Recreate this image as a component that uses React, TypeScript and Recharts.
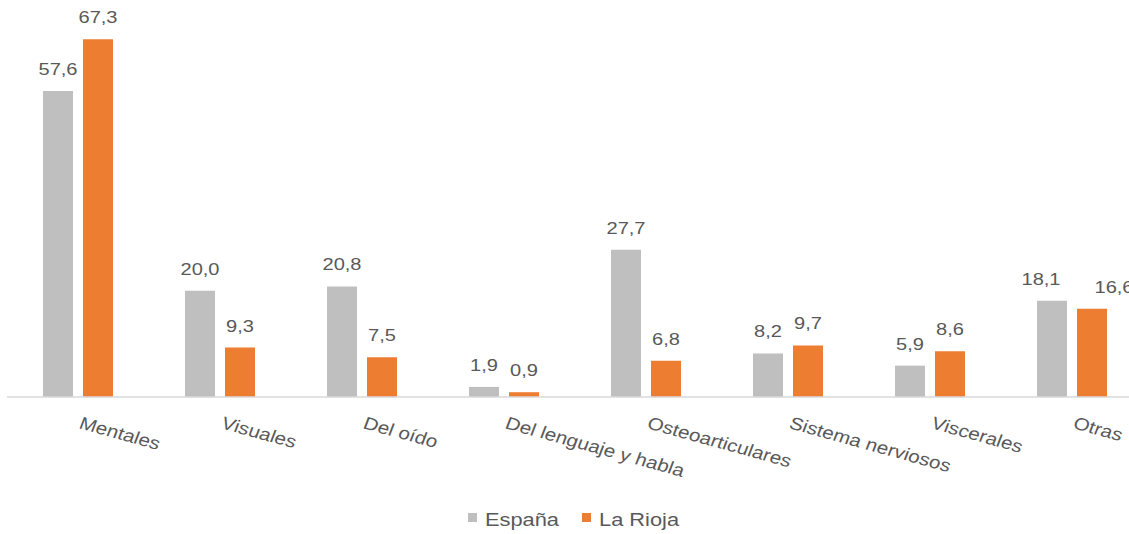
import React from "react";
import { BarChart, Bar, XAxis, YAxis, LabelList, Legend } from "recharts";

const categories = [
  "Mentales",
  "Visuales",
  "Del oído",
  "Del lenguaje y habla",
  "Osteoarticulares",
  "Sistema nerviosos",
  "Viscerales",
  "Otras",
];
const espana = [57.6, 20.0, 20.8, 1.9, 27.7, 8.2, 5.9, 18.1];
const rioja = [67.3, 9.3, 7.5, 0.9, 6.8, 9.7, 8.6, 16.6];
const seriesNames = ["España", "La Rioja"];

const data = categories.map((c, i) => ({ name: c, espana: espana[i], rioja: rioja[i] }));

const GREY = "#BFBFBF";
const ORANGE = "#ED7D31";
const TEXT = "#595959";
const FONT = "'Liberation Sans', Arial, sans-serif";
const STRETCH = 1.18; // horizontal text stretch seen in the reference

// style: horizontal label nudges (only the last group's labels are moved apart)
const espanaLabelNudge: Record<number, number> = { 7: -11 };
const riojaLabelNudge: Record<number, number> = { 7: 22 };

const fmt = (v: any) => Number(v).toFixed(1).replace(".", ",");

const Tick = (props: any) => {
  const { x, y, payload } = props;
  const x0 = x;
  const y0 = y + 31;
  return (
    <text
      x={0}
      y={0}
      transform={`translate(${x0}, ${y0}) scale(${STRETCH}, 1) rotate(18)`}
      textAnchor="start"
      fill={TEXT}
      fontSize={17.5}
      fontFamily={FONT}
    >
      {payload.value}
    </text>
  );
};

const makeBarLabel = (nudge: Record<number, number>) => (props: any) => {
  const { x, y, width, value, index } = props;
  const cx = Number(x) + Number(width) / 2 + (nudge[index] ?? 0);
  const by = Number(y) - 16;
  return (
    <text
      x={0}
      y={0}
      transform={`translate(${cx}, ${by}) scale(${STRETCH}, 1)`}
      textAnchor="middle"
      fill={TEXT}
      fontSize={17}
      fontFamily={FONT}
    >
      {fmt(value)}
    </text>
  );
};

const EspanaLabel = makeBarLabel(espanaLabelNudge);
const RiojaLabel = makeBarLabel(riojaLabelNudge);

const LegendContent = () => (
  <svg width={1129} height={34} style={{ display: "block" }}>
    <rect x={468} y={13} width={9} height={9} fill={GREY} />
    <text
      x={0}
      y={0}
      transform={`translate(485, 26) scale(${STRETCH}, 1)`}
      fill={TEXT}
      fontSize={18.5}
      fontFamily={FONT}
    >
      {seriesNames[0]}
    </text>
    <rect x={582} y={13} width={9} height={9} fill={ORANGE} />
    <text
      x={0}
      y={0}
      transform={`translate(599, 26) scale(${STRETCH}, 1)`}
      fill={TEXT}
      fontSize={18.5}
      fontFamily={FONT}
    >
      {seriesNames[1]}
    </text>
  </svg>
);

export default function App() {
  return (
    <div
      style={{
        position: "absolute",
        left: 0,
        top: 0,
        width: 1129,
        height: 534,
        overflow: "hidden",
        background: "#fff",
      }}
    >
      <BarChart
        width={1150}
        height={534}
        data={data}
        margin={{ top: 25, right: 7, left: 7, bottom: 107 }}
        barSize={30}
        barGap={10}
      >
        <XAxis
          dataKey="name"
          height={30}
          interval={0}
          tickLine={false}
          tickSize={0}
          tickMargin={0}
          axisLine={{ stroke: "#D9D9D9", strokeWidth: 1.5 }}
          tick={<Tick />}
        />
        <YAxis hide domain={[0, 70]} />
        <Legend
          layout="horizontal"
          verticalAlign="middle"
          wrapperStyle={{ position: "absolute", top: 500, left: 0, width: 1129 }}
          content={<LegendContent />}
        />
        <Bar dataKey="espana" name={seriesNames[0]} fill={GREY} isAnimationActive={false}>
          <LabelList dataKey="espana" position="top" content={<EspanaLabel />} />
        </Bar>
        <Bar dataKey="rioja" name={seriesNames[1]} fill={ORANGE} isAnimationActive={false}>
          <LabelList dataKey="rioja" position="top" content={<RiojaLabel />} />
        </Bar>
      </BarChart>
    </div>
  );
}
